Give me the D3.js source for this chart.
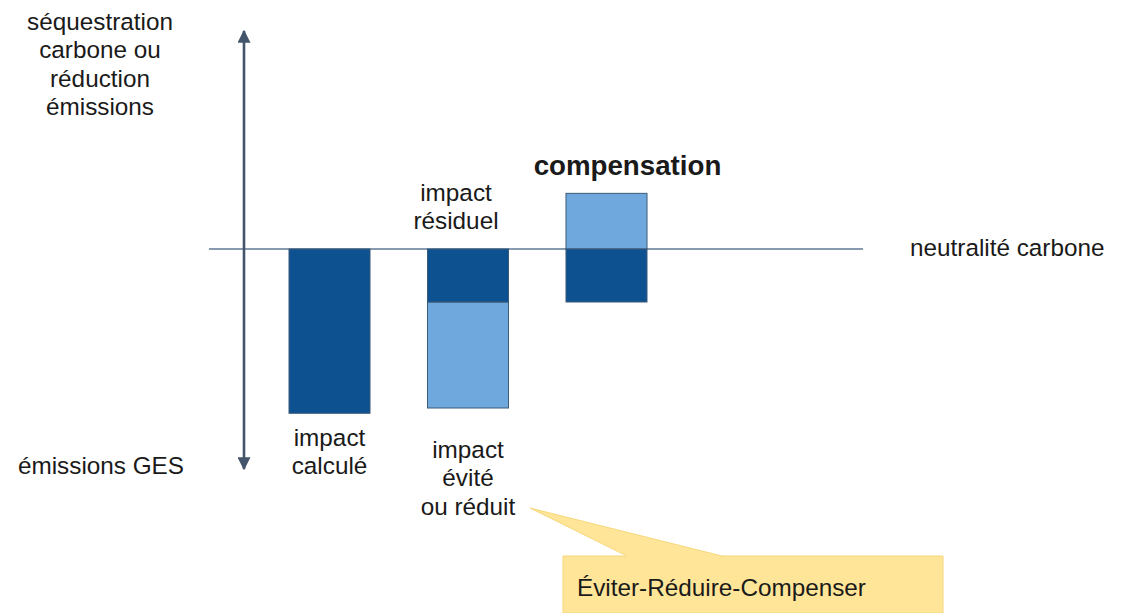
<!DOCTYPE html>
<html><head><meta charset="utf-8">
<script src="https://cdn.jsdelivr.net/npm/d3@7"></script>
<style>
html,body{margin:0;padding:0;background:#fff;}
svg text{font-family:"Liberation Sans",Arial,sans-serif;fill:#1a1a1a;}
</style></head><body>
<svg id="c" width="1126" height="613"></svg>
<script>
// Data (arbitrary units; residual impact = 1)
const categories = ["calculé", "réduit", "compensation"];
const darkValues = [-3.1, -1.0, -1.0];      // dark blue segments (emissions)
const lightStart = [0, -1.0, 0];            // light blue segment start
const lightValues = [0, -2.0, 1.05];        // light blue segment extent
const labelsBelow = [["impact","calculé"], ["impact","évité","ou réduit"], []];
const labelsAbove = [[], ["impact","résiduel"], []];
const axisTopLabel = ["séquestration","carbone ou","réduction","émissions"];
const axisBottomLabel = "émissions GES";
const zeroLabel = "neutralité carbone";
const titleLabel = "compensation";
const calloutText = "Éviter-Réduire-Compenser";

const svg = d3.select("#c");
const dark = "#0e5191", light = "#6fa8dc", edge = "#3d5a78";

const y = d3.scaleLinear().domain([-4, 4]).range([461, 37]);
const x = d3.scaleBand().domain(categories).range([289, 647]).paddingInner(0.415).paddingOuter(0);

// callout
const cg = svg.append("g");
cg.append("path")
  .attr("d", "M563,556 L627,556 L530,508 L722,556 L943,556 L943,613 L563,613 Z")
  .attr("fill", "#ffe598").attr("stroke", "#f5d77a").attr("stroke-width", 1);
cg.append("text").attr("x", 577).attr("y", 596).attr("font-size", 24.3).text(calloutText);

// zero line
svg.append("line").attr("x1", 209).attr("x2", 863).attr("y1", y(0)).attr("y2", y(0))
  .attr("stroke", "#5f7894").attr("stroke-width", 1.5);

// vertical double arrow
const defs = svg.append("defs");
defs.append("marker").attr("id", "ah").attr("viewBox", "0 0 10 10").attr("refX", 9).attr("refY", 5)
  .attr("markerWidth", 5).attr("markerHeight", 5).attr("orient", "auto-start-reverse").attr("markerUnits","strokeWidth")
  .append("path").attr("d", "M0,0 L10,5 L0,10 Z").attr("fill", "#44546a");
svg.append("line").attr("x1", 244).attr("x2", 244).attr("y1", 469).attr("y2", 31)
  .attr("stroke", "#44546a").attr("stroke-width", 2.6)
  .attr("marker-end", "url(#ah)").attr("marker-start", "url(#ah)");

// bars
const bars = svg.append("g");
categories.forEach((c, i) => {
  if (lightValues[i] !== 0) {
    const a = lightStart[i], b = lightStart[i] + lightValues[i];
    bars.append("rect").attr("x", x(c)).attr("width", x.bandwidth())
      .attr("y", y(Math.max(a, b))).attr("height", Math.abs(y(a) - y(b)))
      .attr("fill", light).attr("stroke", edge).attr("stroke-width", 1);
  }
  bars.append("rect").attr("x", x(c)).attr("width", x.bandwidth())
    .attr("y", y(0)).attr("height", y(darkValues[i]) - y(0))
    .attr("fill", dark).attr("stroke", edge).attr("stroke-width", 1);
});

function multiline(lines, cx, y0, lh, size, anchor) {
  const t = svg.append("text").attr("font-size", size).attr("text-anchor", anchor || "middle");
  lines.forEach((l, k) => t.append("tspan").attr("x", cx).attr("y", y0 + k * lh).text(l));
  return t;
}
const fs = 24.3, lh = 28.5;
multiline(axisTopLabel, 100, 29.5, lh, fs);
multiline([axisBottomLabel], 101, 473.5, lh, fs);
multiline(labelsBelow[0], x(categories[0]) + x.bandwidth()/2, 445.5, lh, fs);
multiline(labelsBelow[1], x(categories[1]) + x.bandwidth()/2, 457.5, lh, fs);
multiline(labelsAbove[1], x(categories[1]) + x.bandwidth()/2 - 12, 200.5, lh, fs);
multiline([titleLabel], x(categories[2]) + x.bandwidth()/2 + 21, 174.5, lh, 27.7).attr("font-weight", "bold");
multiline([zeroLabel], 910, 255.5, lh, fs, "start");
</script></body></html>
